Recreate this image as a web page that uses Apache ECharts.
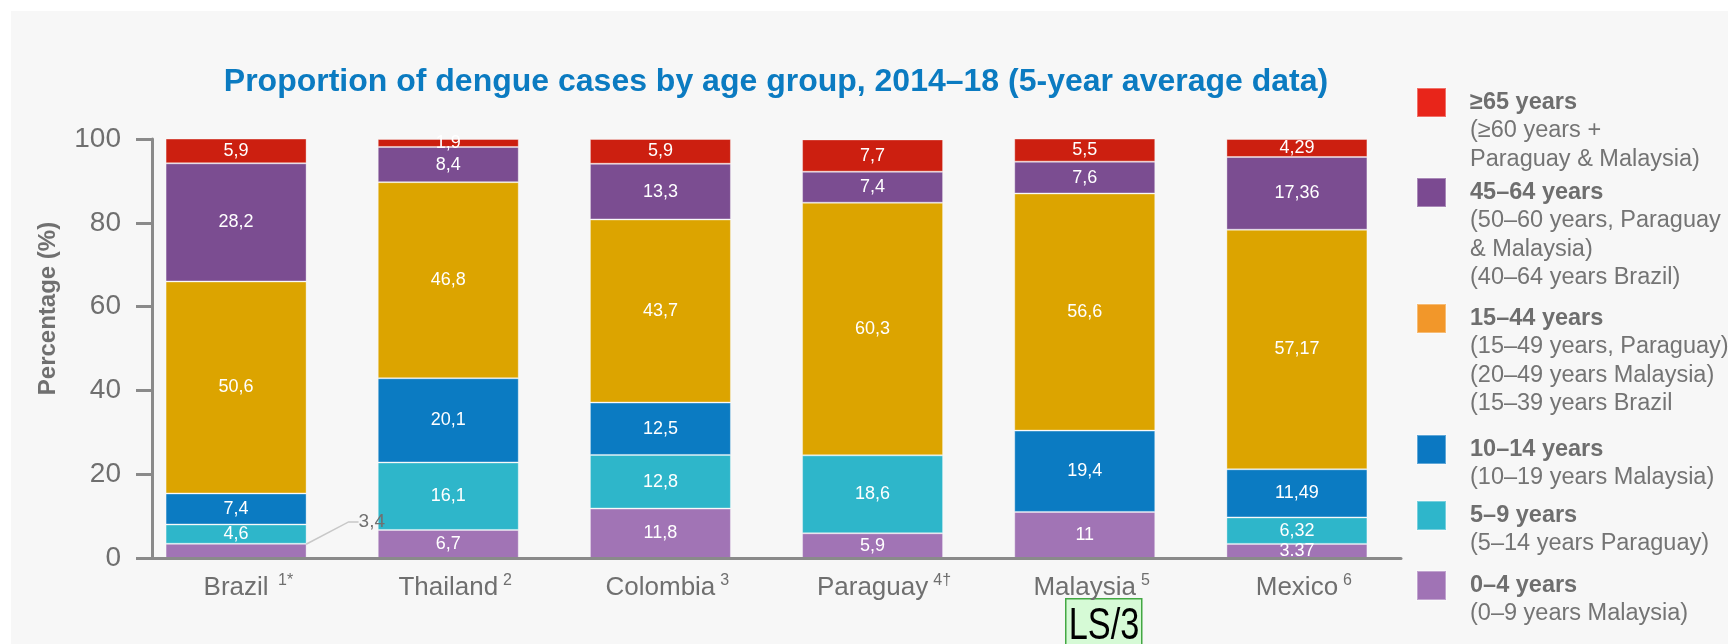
<!DOCTYPE html>
<html>
<head>
<meta charset="utf-8">
<script src="https://cdn.jsdelivr.net/npm/echarts@6/dist/echarts.min.js"></script>
<style>
  html, body { margin: 0; padding: 0; background: #ffffff; }
  #chart { width: 1728px; height: 644px; }
</style>
</head>
<body>
<div id="chart"></div>
<script>
// Countries on the x axis and their reference marks
const countries = ['Brazil', 'Thailand', 'Colombia', 'Paraguay', 'Malaysia', 'Mexico'];
const countryRefs = [' 1*', '2', '3', '4†', '5', '6'];

// Share of dengue cases (%) per age group, stacked bottom to top
const age0to4   = [3.4, 6.7, 11.8, 5.9, 11, 3.37];
const age5to9   = [4.6, 16.1, 12.8, 18.6, null, 6.32];
const age10to14 = [7.4, 20.1, 12.5, null, 19.4, 11.49];
const age15to44 = [50.6, 46.8, 43.7, 60.3, 56.6, 57.17];
const age45to64 = [28.2, 8.4, 13.3, 7.4, 7.6, 17.36];
const age65plus = [5.9, 1.9, 5.9, 7.7, 5.5, 4.29];

const yTicks = [0, 20, 40, 60, 80, 100];

const groupNames = ['0–4 years', '5–9 years', '10–14 years', '15–44 years', '45–64 years', '≥65 years'];
const groupValues = [age0to4, age5to9, age10to14, age15to44, age45to64, age65plus];
const barColors = ['#a174b5', '#2eb6ca', '#0b7bc2', '#dca400', '#7b4d91', '#cc1f10'];
const swatchColors = ['#a073b5', '#2eb6cb', '#0b78c2', '#f2972a', '#7b4a91', '#e8251a'];

// Notes printed under each legend entry
const notes0to4   = ['(0–9 years Malaysia)'];
const notes5to9   = ['(5–14 years Paraguay)'];
const notes10to14 = ['(10–19 years Malaysia)'];
const notes15to44 = ['(15–49 years, Paraguay)', '(20–49 years Malaysia)', '(15–39 years Brazil'];
const notes45to64 = ['(50–60 years, Paraguay', '& Malaysia)', '(40–64 years Brazil)'];
const notes65plus = ['(≥60 years +', 'Paraguay & Malaysia)'];
const groupNotes = [notes0to4, notes5to9, notes10to14, notes15to44, notes45to64, notes65plus];

// Layout
const FONT = "'Liberation Sans', Arial, Helvetica, sans-serif";
const GREY = '#6f6f6f';
const AXIS_GREY = '#8a8a8a';
const legendIconTops = [570, 500, 434, 303, 177, 87];   // per group, same order as groupNames
const LEGEND_LINE = 28.5;
const SUP_SIZE = 16;
const SUP_GAP = 5;

function valueText(v, country, group) {
  // Mexico's youngest group is printed with a decimal point in the source table
  if (country === 'Mexico' && group === '0–4 years') return String(v);
  return String(v).replace('.', ',');
}

// Width of each superscript, so the country name itself stays centred under its bar
const measureCtx = document.createElement('canvas').getContext('2d');
measureCtx.font = SUP_SIZE + 'px ' + FONT;
const supWidths = countryRefs.map(r => measureCtx.measureText(r).width + SUP_GAP);

const xLabelRich = {
  name: { fontSize: 26, color: GREY, fontFamily: FONT, lineHeight: 30 },
  sup: { fontSize: SUP_SIZE, color: GREY, fontFamily: FONT, lineHeight: SUP_SIZE, padding: [0, 0, 14, SUP_GAP] }
};
supWidths.forEach((w, i) => { xLabelRich['pad' + i] = { width: w, fontSize: SUP_SIZE }; });

const series = groupNames.map((name, gi) => {
  const data = groupValues[gi].map((v, ci) => {
    if (gi === 0 && ci === 0) {
      // Brazil 0–4: segment too thin, label placed outside with a guide line
      return {
        value: v,
        label: { position: 'right', distance: 52, color: '#707070', fontSize: 19 },
        labelLine: { show: true, length2: 10, lineStyle: { color: '#c8c8c8', width: 1.5 } }
      };
    }
    return v;
  });
  const s = {
    name: name,
    type: 'bar',
    stack: 'total',
    xAxisIndex: 0,
    yAxisIndex: 0,
    barWidth: 141,
    itemStyle: { color: barColors[gi], borderColor: 'rgba(255,255,255,0.35)', borderWidth: 1 },
    label: {
      show: true,
      position: 'inside',
      color: '#ffffff',
      fontSize: 18,
      fontFamily: FONT,
      formatter: p => valueText(p.value, p.name, name)
    },
    data: data
  };
  if (gi === 0) {
    s.labelLayout = p => (p.dataIndex === 0 ? { dy: -29 } : {});
  }
  return s;
});

const legends = groupNames.map((name, gi) => {
  const lines = ['{t|' + name + '}'].concat(groupNotes[gi].map(t => '{s|' + t + '}'));
  const n = lines.length;
  return {
    show: true,
    orient: 'vertical',
    left: 1416,
    top: legendIconTops[gi],
    padding: 0,
    selectedMode: false,
    itemWidth: 29,
    itemHeight: 29,
    icon: 'rect',
    data: [{ name: name, itemStyle: { color: swatchColors[gi] } }],
    formatter: () => lines.join('\n'),
    textStyle: {
      padding: [(n - 1) * LEGEND_LINE, 0, 0, 19],
      rich: {
        t: { fontSize: 23.5, fontWeight: 'bold', color: '#6e6e6e', fontFamily: FONT, lineHeight: LEGEND_LINE },
        s: { fontSize: 23.5, color: '#747474', fontFamily: FONT, lineHeight: LEGEND_LINE }
      }
    }
  };
});

const chart = echarts.init(document.getElementById('chart'), null, { renderer: 'canvas' });

chart.setOption({
  backgroundColor: '#ffffff',
  animation: false,
  title: {
    text: 'Proportion of dengue cases by age group, 2014–18 (5-year average data)',
    left: 776,
    top: 66,
    padding: 0,
    textAlign: 'center',
    textStyle: { fontSize: 32, fontWeight: 'bold', color: '#0b7bc1', fontFamily: FONT }
  },
  legend: legends,
  grid: [
    { left: 130, right: 325, top: 139, bottom: 86, outerBoundsMode: 'none' },
    { left: 152, right: 327, top: 139, bottom: 86, outerBoundsMode: 'none' }
  ],
  xAxis: [
    {
      gridIndex: 0,
      type: 'category',
      data: countries,
      axisLine: { show: false },
      axisTick: { show: false },
      axisLabel: {
        margin: 15,
        interval: 0,
        formatter: (val, idx) => '{pad' + idx + '|\u00a0}{name|' + val + '}{sup|' + countryRefs[idx] + '}',
        rich: xLabelRich
      }
    },
    {
      gridIndex: 1,
      type: 'category',
      data: countries,
      z: 10,
      axisLine: { show: true, lineStyle: { color: AXIS_GREY, width: 3 } },
      axisTick: { show: false },
      axisLabel: { show: false }
    }
  ],
  yAxis: [
    { gridIndex: 0, type: 'value', min: 0, max: 100, show: false },
    {
      gridIndex: 1,
      type: 'value',
      min: yTicks[0],
      max: yTicks[yTicks.length - 1],
      interval: yTicks[1] - yTicks[0],
      z: 10,
      axisLine: { show: true, lineStyle: { color: AXIS_GREY, width: 3 } },
      axisTick: { show: true, length: 16, lineStyle: { color: AXIS_GREY, width: 3 } },
      splitLine: { show: false },
      axisLabel: { margin: 31, fontSize: 28, color: GREY, fontFamily: FONT },
      name: 'Percentage (%)',
      nameLocation: 'middle',
      nameGap: 92,
      nameTextStyle: { fontSize: 24, fontWeight: 'bold', color: '#707070', fontFamily: FONT, padding: [0, 0, 0, 80] }
    }
  ],
  graphic: {
    elements: [
      {
        type: 'rect', left: 11, top: 11, z: -10, silent: true,
        shape: { width: 1717, height: 633 },
        style: { fill: '#f7f7f7' }
      },
      {
        type: 'group', left: 1065, top: 598, z: 100,
        children: [
          { type: 'rect', shape: { x: 0, y: 0, width: 76, height: 60 },
            style: { fill: '#d6fad6', stroke: '#43a843', lineWidth: 1.5 } },
          { type: 'text', x: 3, y: 6, scaleX: 0.78,
            style: { text: 'LS/3', fill: '#000000', font: '44px ' + FONT } }
        ]
      }
    ]
  },
  series: series
});
</script>
</body>
</html>
